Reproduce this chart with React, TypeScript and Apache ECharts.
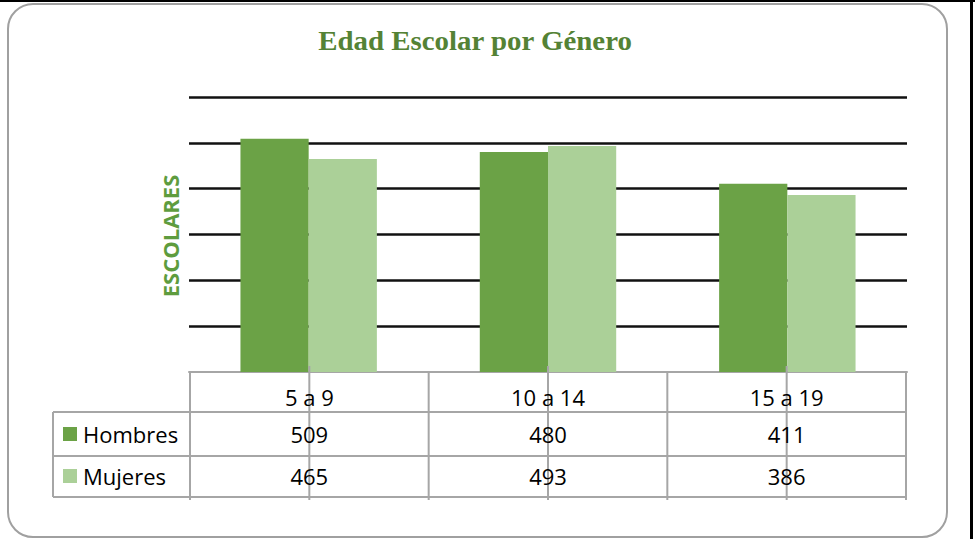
import React, { useEffect, useRef } from "react";
import * as echarts from "echarts";

const categories = ["5 a 9", "10 a 14", "15 a 19"];
const seriesNames = ["Hombres", "Mujeres"];
const hombres = [509, 480, 411];
const mujeres = [465, 493, 386];
const yMin = 0;
const yMax = 600;
const yInterval = 100;

const W = 975;
const H = 539;
const PLOT_L = 189;
const PLOT_R = 907;
const PLOT_T = 97;
const PLOT_B = 372;

const C_DARK = "#6BA246";
const C_LIGHT = "#ABD098";
const C_TITLE = "#548235";
const C_YNAME = "#5E9C3E";
const C_TABLE = "#a6a6a6";
const TXT_FONT = "'Open Sans', sans-serif";

export default function App() {
  const ref = useRef<HTMLDivElement>(null);

  useEffect(() => {
    if (!ref.current) return;
    const chart = echarts.init(ref.current, undefined, { renderer: "svg" });

    const tL = 190;
    const tR = 906;
    const colW = (tR - tL) / categories.length;
    const legL = 53;
    const rowY = [372, 412, 456, 497];
    const lineBottom = 500;
    const lineStyle = { stroke: C_TABLE, lineWidth: 2 };

    const graphics: any[] = [];
    // outer frame
    graphics.push({
      type: "rect",
      shape: { x: 8, y: 4, width: 939, height: 533, r: 25 },
      style: { fill: "none", stroke: "#a0a0a0", lineWidth: 2 },
      z: 1,
    });
    graphics.push({ type: "rect", shape: { x: 0, y: 0, width: W, height: 2 }, style: { fill: "#000" }, z: 2 });
    graphics.push({ type: "rect", shape: { x: 970, y: 0, width: 3, height: H }, style: { fill: "#000" }, z: 2 });

    // title
    graphics.push({
      type: "text",
      x: 475,
      y: 41,
      scaleX: 1.07,
      style: {
        text: "Edad Escolar por Género",
        font: "bold 27px 'Liberation Serif', serif",
        fill: C_TITLE,
        align: "center",
        verticalAlign: "middle",
      },
      z: 5,
    });
    // y axis name
    graphics.push({
      type: "text",
      x: 170,
      y: 236,
      rotation: Math.PI / 2,
      style: {
        text: "ESCOLARES",
        font: "bold 22px 'Open Sans', sans-serif",
        fill: C_YNAME,
        align: "center",
        verticalAlign: "middle",
      },
      z: 5,
    });

    // table horizontal lines
    for (let i = 1; i < rowY.length; i++) {
      graphics.push({
        type: "line",
        shape: { x1: legL, y1: rowY[i], x2: tR, y2: rowY[i] },
        style: lineStyle,
        z: 10,
      });
    }
    // legend column left border
    graphics.push({
      type: "line",
      shape: { x1: legL, y1: rowY[1], x2: legL, y2: rowY[3] },
      style: lineStyle,
      z: 10,
    });
    // column borders
    for (let i = 0; i <= categories.length; i++) {
      const x = tL + i * colW;
      graphics.push({
        type: "line",
        shape: { x1: x, y1: rowY[0], x2: x, y2: lineBottom },
        style: lineStyle,
        z: 10,
      });
    }
    // center tick lines
    for (let i = 0; i < categories.length; i++) {
      const x = tL + (i + 0.5) * colW;
      graphics.push({
        type: "line",
        shape: { x1: x, y1: 366, x2: x, y2: lineBottom },
        style: lineStyle,
        z: 10,
      });
    }
    // header texts
    categories.forEach((c, i) => {
      graphics.push({
        type: "text",
        x: tL + (i + 0.5) * colW,
        y: 397,
        style: { text: c, font: `22px ${TXT_FONT}`, fill: "#000", align: "center", verticalAlign: "middle" },
        z: 11,
      });
    });
    const rows = [hombres, mujeres];
    const rowCenters = [434, 476];
    const colors = [C_DARK, C_LIGHT];
    rows.forEach((vals, r) => {
      graphics.push({
        type: "rect",
        shape: { x: 63, y: rowCenters[r] - 7, width: 14, height: 14 },
        style: { fill: colors[r] },
        z: 11,
      });
      graphics.push({
        type: "text",
        x: 83,
        y: rowCenters[r],
        style: { text: seriesNames[r], font: `22px ${TXT_FONT}`, fill: "#000", align: "left", verticalAlign: "middle" },
        z: 11,
      });
      vals.forEach((v, i) => {
        graphics.push({
          type: "text",
          x: tL + (i + 0.5) * colW,
          y: rowCenters[r],
          style: { text: String(v), font: `22px ${TXT_FONT}`, fill: "#000", align: "center", verticalAlign: "middle" },
          z: 11,
        });
      });
    });

    chart.setOption({
      animation: false,
      backgroundColor: "#fff",
      grid: { left: PLOT_L, right: W - PLOT_R, top: PLOT_T, bottom: H - PLOT_B },
      xAxis: {
        type: "category",
        data: categories,
        axisLabel: { show: false },
        axisTick: { show: false },
        axisLine: { show: true, lineStyle: { color: C_TABLE, width: 2 } },
        splitLine: { show: false },
      },
      yAxis: {
        type: "value",
        min: yMin,
        max: yMax,
        interval: yInterval,
        axisLabel: { show: false },
        axisLine: { show: false },
        axisTick: { show: false },
        splitLine: { show: true, showMinLine: false, lineStyle: { color: "#111", width: 2.5 } },
      },
      series: [
        {
          name: seriesNames[0],
          type: "bar",
          data: hombres,
          barGap: "0%",
          barCategoryGap: "43%",
          itemStyle: { color: C_DARK },
        },
        {
          name: seriesNames[1],
          type: "bar",
          data: mujeres,
          barGap: "0%",
          barCategoryGap: "43%",
          itemStyle: { color: C_LIGHT },
        },
      ],
      graphic: graphics,
    });

    return () => chart.dispose();
  }, []);

  return (
    <div
      ref={ref}
      style={{ position: "absolute", left: 0, top: 0, width: W, height: H, background: "#fff" }}
    />
  );
}
